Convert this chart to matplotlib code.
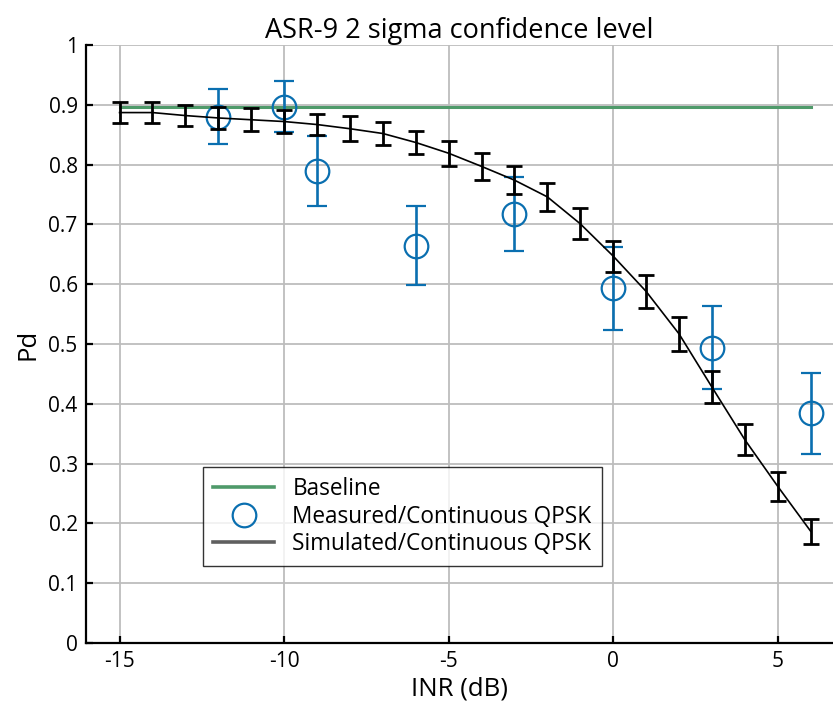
import numpy as np
import matplotlib
matplotlib.use("Agg")
import matplotlib.pyplot as plt
from matplotlib.lines import Line2D

plt.rcParams['font.family'] = ['Open Sans', 'DejaVu Sans']
plt.rcParams['axes.unicode_minus'] = False

# simulated / continuous QPSK
inr_sim = np.arange(-15, 7)
pd_sim = [0.887, 0.887, 0.882, 0.878, 0.875, 0.872, 0.867, 0.860, 0.852, 0.837,
          0.819, 0.797, 0.774, 0.746, 0.701, 0.647, 0.588, 0.517, 0.428, 0.340,
          0.262, 0.187]
err_sim = [0.018, 0.018, 0.018, 0.019, 0.019, 0.019, 0.018, 0.021, 0.020, 0.020,
           0.021, 0.022, 0.023, 0.023, 0.026, 0.026, 0.028, 0.028, 0.027, 0.026,
           0.024, 0.021]

# measured / continuous QPSK
inr_meas = [-12, -10, -9, -6, -3, 0, 3, 6]
pd_meas = [0.880, 0.897, 0.789, 0.664, 0.717, 0.593, 0.494, 0.384]
err_meas = [0.046, 0.043, 0.058, 0.066, 0.062, 0.070, 0.070, 0.068]

# baseline
inr_base = [-15, 6]
pd_base = [0.897, 0.897]

green = '#4f9a6a'
blue = '#0a6fb0'

fig = plt.figure(figsize=(8.33, 7.15), dpi=100)
ax = fig.add_axes([86 / 833, 1 - 643 / 715, 1 - 86 / 833, (643 - 45) / 715])

ax.plot(inr_base, pd_base, color=green, lw=2.2, zorder=3)
ax.errorbar(inr_meas, pd_meas, yerr=err_meas, fmt='o', color=blue, mfc='none',
            mec=blue, ms=17, mew=1.6, elinewidth=1.9, capsize=7, capthick=1.9,
            zorder=4)
ax.errorbar(inr_sim, pd_sim, yerr=err_sim, fmt='-', color='black', lw=1.2,
            elinewidth=2.0, capsize=5.5, capthick=2.0, zorder=5)

ax.set_xlim(-16.02, 6.68)
ax.set_ylim(0, 1)
ax.set_xticks([-15, -10, -5, 0, 5])
ax.set_yticks(np.arange(0, 1.01, 0.1))
ax.set_yticklabels(['0', '0.1', '0.2', '0.3', '0.4', '0.5', '0.6', '0.7', '0.8', '0.9', '1'])
ax.grid(True, color='#bdbdbd', lw=1.3)
ax.set_axisbelow(True)
for s in ['top', 'right']:
    ax.spines[s].set_visible(False)
for s in ['left', 'bottom']:
    ax.spines[s].set_linewidth(1.6)
ax.tick_params(direction='in', length=5, width=1.6, labelsize=15, pad=6)

ax.set_title('ASR-9 2 sigma confidence level', fontsize=19.5, pad=5)
ax.set_xlabel('INR (dB)', fontsize=18.5, labelpad=3)
ax.set_ylabel('Pd', fontsize=18.5, labelpad=6)

handles = [
    Line2D([], [], color=green, lw=2.6),
    Line2D([], [], ls='none', marker='o', ms=17, mfc='none', mec=blue, mew=1.6),
    Line2D([], [], color='#5f5f5f', lw=2.6),
]
labels = ['Baseline', 'Measured/Continuous QPSK', 'Simulated/Continuous QPSK']
leg = ax.legend(handles, labels, loc='upper left',
                bbox_to_anchor=(203 / 833, 1 - 467 / 715), bbox_transform=fig.transFigure,
                fontsize=16.3, frameon=True, fancybox=False, edgecolor='black',
                borderpad=0.45, labelspacing=0.15, handlelength=2.7, handletextpad=0.8,
                borderaxespad=0)
leg.get_frame().set_linewidth(1.0)

fig.savefig('out.png', dpi=100)
